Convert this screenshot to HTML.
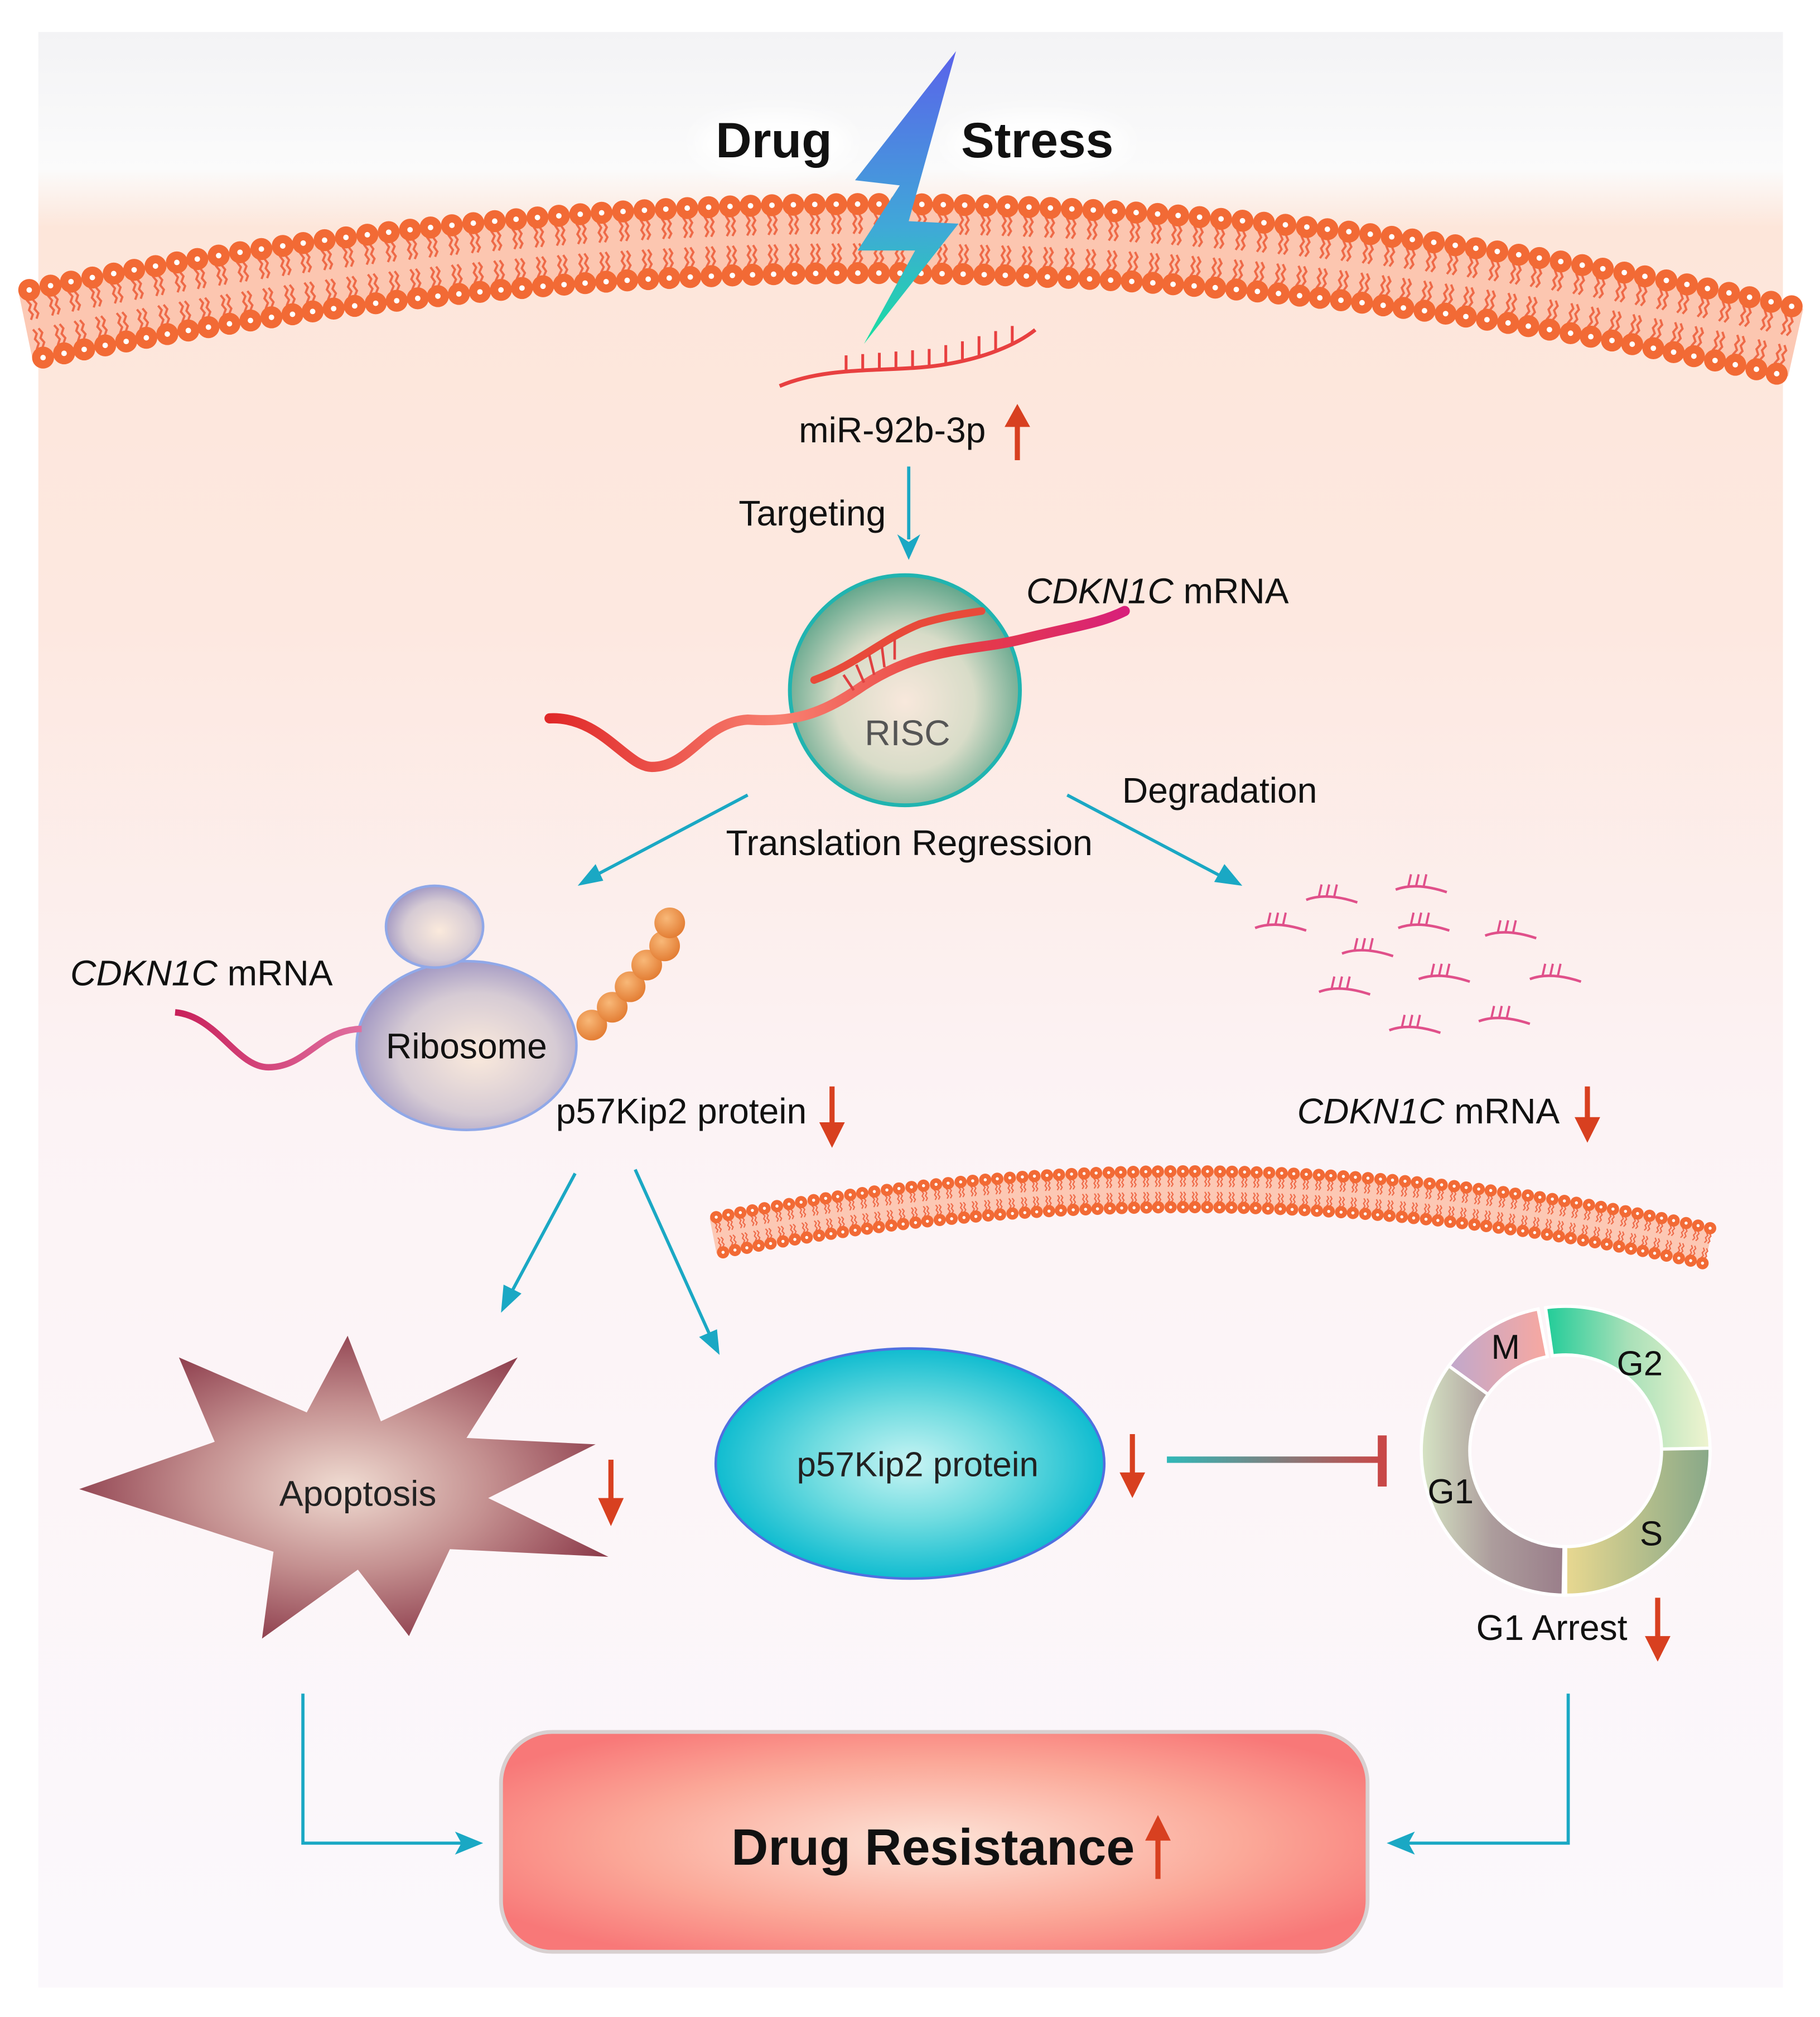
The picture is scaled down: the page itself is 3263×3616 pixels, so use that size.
<!DOCTYPE html>
<html><head><meta charset="utf-8"><style>
html,body{margin:0;padding:0;background:#fff;}
svg{display:block;}
text{font-family:"Liberation Sans",Arial,sans-serif;}
</style></head><body>
<svg id="s" xmlns="http://www.w3.org/2000/svg" width="3263" height="3616" viewBox="0 0 1424 1578">
<defs>
<linearGradient id="bg" x1="0" y1="0" x2="0" y2="1">
<stop offset="0" stop-color="#f3f3f5"/><stop offset="0.07" stop-color="#fbfbfb"/>
<stop offset="0.1" stop-color="#fde6da"/><stop offset="0.3" stop-color="#fde8e0"/>
<stop offset="0.55" stop-color="#fcf3f5"/><stop offset="1" stop-color="#fbf8fc"/>
</linearGradient>
<linearGradient id="bolt" x1="0" y1="0" x2="0" y2="1">
<stop offset="0" stop-color="#5a62ea"/><stop offset="0.6" stop-color="#40a8d8"/><stop offset="1" stop-color="#18e0a0"/>
</linearGradient>
<radialGradient id="risc" cx="0.5" cy="0.55" r="0.55">
<stop offset="0" stop-color="#f8e8dc"/><stop offset="0.55" stop-color="#d8dcc8"/><stop offset="1" stop-color="#5fa58a"/>
</radialGradient>
<radialGradient id="ribo" cx="0.55" cy="0.55" r="0.6">
<stop offset="0" stop-color="#fbeadc"/><stop offset="0.6" stop-color="#d6cbd4"/><stop offset="1" stop-color="#9a90c0"/>
</radialGradient>
<radialGradient id="bead" cx="0.4" cy="0.35" r="0.7">
<stop offset="0" stop-color="#f8b878"/><stop offset="1" stop-color="#e27a30"/>
</radialGradient>
<radialGradient id="apo" cx="0.5" cy="0.5" r="0.55">
<stop offset="0" stop-color="#f0dcd2"/><stop offset="0.5" stop-color="#c49090"/><stop offset="1" stop-color="#8a3848"/>
</radialGradient>
<radialGradient id="p57" cx="0.5" cy="0.5" r="0.5">
<stop offset="0" stop-color="#c8f4f4"/><stop offset="0.5" stop-color="#70dce0"/><stop offset="1" stop-color="#10bcd0"/>
</radialGradient>
<linearGradient id="inh" gradientUnits="userSpaceOnUse" x1="913" y1="0" x2="1080" y2="0"><stop offset="0" stop-color="#30b8b8"/><stop offset="1" stop-color="#c84848"/></linearGradient>
<radialGradient id="dr" cx="0.5" cy="0.5" r="0.6">
<stop offset="0" stop-color="#fde4d8"/><stop offset="0.6" stop-color="#fba898"/><stop offset="1" stop-color="#f87878"/>
</radialGradient>
<linearGradient id="rna1" x1="0" x2="1"><stop offset="0" stop-color="#e02828"/><stop offset="0.4" stop-color="#f88070"/><stop offset="0.7" stop-color="#e84040"/><stop offset="1" stop-color="#d8207a"/></linearGradient>
<linearGradient id="rna2" x1="0" x2="1"><stop offset="0" stop-color="#c8205a"/><stop offset="1" stop-color="#e070a0"/></linearGradient>
<linearGradient id="g1" x1="0" x2="1"><stop offset="0" stop-color="#d6e4c4"/><stop offset="0.5" stop-color="#ac9c9c"/><stop offset="1" stop-color="#9a7e8a"/></linearGradient>
<linearGradient id="gm" x1="0" x2="1"><stop offset="0" stop-color="#c0a8cc"/><stop offset="1" stop-color="#f8a8a0"/></linearGradient>
<linearGradient id="g2" x1="0" x2="1"><stop offset="0" stop-color="#20cc98"/><stop offset="0.5" stop-color="#a8e0b8"/><stop offset="1" stop-color="#f0f4d0"/></linearGradient>
<linearGradient id="gs" x1="0" x2="1"><stop offset="0" stop-color="#e8d890"/><stop offset="1" stop-color="#88a888"/></linearGradient>
<filter id="glow" x="-30%" y="-60%" width="160%" height="220%"><feGaussianBlur stdDeviation="8"/></filter>
</defs>
<rect x="30" y="25" width="1365" height="1530" fill="url(#bg)"/>
<g id="mem1"></g>
<g id="mem2"></g>
<!-- Drug Stress -->
<ellipse cx="605" cy="112" rx="60" ry="22" fill="#fff" filter="url(#glow)"/>
<ellipse cx="812" cy="112" rx="70" ry="22" fill="#fff" filter="url(#glow)"/>
<text x="560" y="123" font-size="39" font-weight="bold" fill="#111">Drug</text>
<text x="752" y="123" font-size="39" font-weight="bold" fill="#111">Stress</text>
<polygon points="748,40 669,141 704,145 671,196 716,196 676,269 750,175 711,173" fill="url(#bolt)"/>
<!-- miRNA -->
<path d="M610,302 C650,285 700,292 740,285 C770,280 795,270 810,258" fill="none" stroke="#e84040" stroke-width="3"/>
<g stroke="#e84040" stroke-width="2.2">
<line x1="662" y1="292" x2="662" y2="278"/><line x1="675" y1="291" x2="675" y2="277"/><line x1="688" y1="290" x2="688" y2="276"/><line x1="701" y1="289" x2="701" y2="275"/><line x1="714" y1="288" x2="714" y2="274"/><line x1="727" y1="287" x2="727" y2="273"/><line x1="740" y1="284" x2="740" y2="270"/><line x1="753" y1="281" x2="753" y2="267"/><line x1="766" y1="278" x2="766" y2="263"/><line x1="779" y1="274" x2="779" y2="259"/><line x1="792" y1="269" x2="792" y2="255"/>
</g>
<text x="625" y="346" font-size="28" fill="#111">miR-92b-3p</text>
<g fill="#d84020" stroke="#d84020"><line x1="796" y1="360" x2="796" y2="330" stroke-width="4"/><path d="M786,334 L796,316 L806,334 Z" stroke="none"/></g>
<text x="578" y="411" font-size="28" fill="#111">Targeting</text>
<line x1="711" y1="365" x2="711" y2="422" stroke="#1aa8c4" stroke-width="2.5"/>
<path d="M702,418 L711,438 L720,418 L711,424 Z" fill="#1aa8c4"/>
<!-- RISC -->
<ellipse cx="708" cy="540" rx="90" ry="90" fill="url(#risc)" stroke="#20b4b0" stroke-width="3"/>
<path d="M430,562 C470,560 490,600 510,600 C540,600 550,565 585,563 C620,565 640,560 670,540 C720,505 760,510 800,500 C840,490 860,488 880,478" fill="none" stroke="url(#rna1)" stroke-width="8" stroke-linecap="round"/>
<path d="M637,532 C670,520 690,500 720,488 C740,482 755,480 768,478" fill="none" stroke="#e84a3a" stroke-width="6" stroke-linecap="round"/>
<g stroke="#e04040" stroke-width="2"><line x1="660" y1="528" x2="668" y2="540"/><line x1="670" y1="520" x2="676" y2="534"/><line x1="680" y1="512" x2="684" y2="528"/><line x1="690" y1="506" x2="692" y2="522"/><line x1="700" y1="500" x2="700" y2="516"/></g>
<text x="710" y="583" font-size="28" fill="#555" text-anchor="middle">RISC</text>
<text x="803" y="472" font-size="28" fill="#111"><tspan font-style="italic">CDKN1C</tspan> mRNA</text>
<text x="878" y="628" font-size="28" fill="#111">Degradation</text>
<text x="568" y="669" font-size="28" fill="#111">Translation Regression</text>
<line x1="585" y1="622" x2="458" y2="689" stroke="#1aa8c4" stroke-width="2.5"/><path d="M452,693 L466,676 L472,689 Z" fill="#1aa8c4"/>
<line x1="835" y1="622" x2="962" y2="689" stroke="#1aa8c4" stroke-width="2.5"/><path d="M972,693 L950,690 L958,676 Z" fill="#1aa8c4"/>
<!-- Ribosome -->
<ellipse cx="365" cy="818" rx="86" ry="66" fill="url(#ribo)" stroke="#90a8e8" stroke-width="2"/>
<ellipse cx="340" cy="725" rx="38" ry="32" fill="url(#ribo)" stroke="#90a8e8" stroke-width="2"/>
<path d="M137,792 C170,795 185,835 210,835 C240,835 250,805 283,805" fill="none" stroke="url(#rna2)" stroke-width="5"/>
<text x="365" y="828" font-size="28" fill="#111" text-anchor="middle">Ribosome</text>
<g fill="url(#bead)"><circle cx="463" cy="802" r="12"/><circle cx="479" cy="788" r="12"/><circle cx="493" cy="772" r="12"/><circle cx="506" cy="755" r="12"/><circle cx="520" cy="740" r="12"/><circle cx="524" cy="722" r="12"/></g>
<text x="55" y="771" font-size="28" fill="#111"><tspan font-style="italic">CDKN1C</tspan> mRNA</text>
<text x="435" y="879" font-size="28" fill="#111">p57Kip2 protein</text>
<g fill="#d84020" stroke="#d84020"><line x1="651" y1="850" x2="651" y2="882" stroke-width="4"/><path d="M641,878 L651,898 L661,878 Z" stroke="none"/></g>
<text x="1015" y="879" font-size="28" fill="#111"><tspan font-style="italic">CDKN1C</tspan> mRNA</text>
<g fill="#d84020" stroke="#d84020"><line x1="1242" y1="850" x2="1242" y2="878" stroke-width="4"/><path d="M1232,874 L1242,894 L1252,874 Z" stroke="none"/></g>
<g id="frag"></g>
<!-- arrows -->
<line x1="450" y1="918" x2="398" y2="1015" stroke="#1aa8c4" stroke-width="2.5"/><path d="M392,1027 L394,1005 L408,1012 Z" fill="#1aa8c4"/>
<line x1="497" y1="915" x2="557" y2="1048" stroke="#1aa8c4" stroke-width="2.5"/><path d="M563,1060 L547,1046 L561,1040 Z" fill="#1aa8c4"/>
<!-- Apoptosis -->
<polygon points="62,1165 168,1128 140,1062 240,1105 272,1045 298,1112 405,1062 365,1125 466,1130 382,1172 476,1218 352,1212 320,1280 280,1228 205,1282 214,1214" fill="url(#apo)"/>
<text x="280" y="1178" font-size="28" fill="#222" text-anchor="middle">Apoptosis</text>
<g fill="#d84020" stroke="#d84020"><line x1="478" y1="1142" x2="478" y2="1176" stroke-width="4"/><path d="M468,1172 L478,1194 L488,1172 Z" stroke="none"/></g>
<!-- p57 -->
<ellipse cx="712" cy="1145" rx="152" ry="90" fill="url(#p57)" stroke="#5070e0" stroke-width="2"/>
<text x="718" y="1155" font-size="27" fill="#222" text-anchor="middle">p57Kip2 protein</text>
<g fill="#d84020" stroke="#d84020"><line x1="886" y1="1122" x2="886" y2="1156" stroke-width="4"/><path d="M876,1152 L886,1172 L896,1152 Z" stroke="none"/></g>
<rect x="913" y="1139.5" width="168" height="5" fill="url(#inh)"/>
<rect x="1078" y="1123" width="7" height="40" fill="#c84848"/>
<!-- cell cycle -->
<g id="cyc"></g>
<text x="1178" y="1063" font-size="27" fill="#111" text-anchor="middle">M</text>
<text x="1283" y="1076" font-size="27" fill="#111" text-anchor="middle">G2</text>
<text x="1135" y="1176" font-size="27" fill="#111" text-anchor="middle">G1</text>
<text x="1292" y="1209" font-size="27" fill="#111" text-anchor="middle">S</text>
<text x="1155" y="1283" font-size="28" fill="#111">G1 Arrest</text>
<g fill="#d84020" stroke="#d84020"><line x1="1297" y1="1250" x2="1297" y2="1284" stroke-width="4"/><path d="M1287,1280 L1297,1300 L1307,1280 Z" stroke="none"/></g>
<!-- connectors -->
<polyline points="237,1325 237,1442 362,1442" fill="none" stroke="#1aa8c4" stroke-width="2.5"/><path d="M378,1442 L356,1433 L361,1442 L356,1451 Z" fill="#1aa8c4"/>
<polyline points="1227,1325 1227,1442 1100,1442" fill="none" stroke="#1aa8c4" stroke-width="2.5"/><path d="M1085,1442 L1107,1433 L1102,1442 L1107,1451 Z" fill="#1aa8c4"/>
<rect x="392" y="1355" width="678" height="172" rx="40" fill="url(#dr)" stroke="#d8d0d0" stroke-width="3"/>
<text x="730" y="1459" font-size="40" font-weight="bold" fill="#111" text-anchor="middle">Drug Resistance</text>
<g fill="#d84020" stroke="#d84020"><line x1="906" y1="1470" x2="906" y2="1436" stroke-width="4"/><path d="M896,1440 L906,1420 L916,1440 Z" stroke="none"/></g>
</svg>
<script>
function bez(p0,c,p2,t){var u=1-t;return [u*u*p0[0]+2*u*t*c[0]+t*t*p2[0],u*u*p0[1]+2*u*t*c[1]+t*t*p2[1]];}
function mem(id,p0,c,p2,half,r,sp,tw){
 var N=2000,pts=[],L=[0];
 for(var i=0;i<=N;i++){pts.push(bez(p0,c,p2,i/N));if(i>0){var dx=pts[i][0]-pts[i-1][0],dy=pts[i][1]-pts[i-1][1];L.push(L[i-1]+Math.sqrt(dx*dx+dy*dy));}}
 var tot=L[N],h="",band1="",band2="";
 for(var i=0;i<=N;i+=20){var a=pts[Math.max(0,i-1)],b=pts[Math.min(N,i+1)];var dx=b[0]-a[0],dy=b[1]-a[1],l=Math.hypot(dx,dy);var nx=-dy/l,ny=dx/l;
  band1+=(pts[i][0]+nx*half)+","+(pts[i][1]+ny*half)+" ";band2=(pts[i][0]-nx*half)+","+(pts[i][1]-ny*half)+" "+band2;}
 h+='<polygon points="'+band1+band2+'" fill="#fbc0a8" opacity="0.85"/>';
 var j=0;
 for(var s=sp/2;s<tot;s+=sp){while(L[j]<s)j++;var p=pts[j],a=pts[Math.max(0,j-1)],b=pts[Math.min(N,j+1)];var dx=b[0]-a[0],dy=b[1]-a[1],l=Math.hypot(dx,dy);var tx=dx/l,ty=dy/l,nx=-ty,ny=tx;
  for(var side=-1;side<=1;side+=2){
   var hx=p[0]+nx*half*side,hy=p[1]+ny*half*side;
   for(var k=-1;k<=1;k+=2){var d="";for(var m=0;m<=6;m++){var f=half*(1-m/7);var w=(m%2?1:-1)*tw*0.5+k*tw;d+=(m?"L":"M")+(p[0]+nx*f*side+tx*w)+","+(p[1]+ny*f*side+ty*w);}
    h+='<path d="'+d+'" fill="none" stroke="#ee6a48" stroke-width="'+(r/5)+'"/>';}
   h+='<circle cx="'+hx+'" cy="'+hy+'" r="'+r+'" fill="#f26a35"/><circle cx="'+hx+'" cy="'+hy+'" r="'+(r/4)+'" fill="#fff"/>';
  }}
 document.getElementById(id).innerHTML=h;
}
mem("mem1",[20,255],[710,112],[1405,268],27,8.6,16.6,2.2);
mem("mem2",[558,967],[948,890],[1337,975],14,4.8,9.6,1.3);
var fr=[[1040,700],[1110,692],[1000,722],[1112,722],[1180,728],[1068,742],[1128,762],[1215,762],[1050,772],[1175,795],[1105,802]],fh="";
fr.forEach(function(q){var x=q[0],y=q[1];fh+='<path d="M'+(x-18)+','+(y+4)+' C'+(x-5)+','+(y-1)+' '+(x+10)+','+(y+2)+' '+(x+22)+','+(y+6)+'" fill="none" stroke="#e0508a" stroke-width="2"/>';
 for(var k=0;k<3;k++)fh+='<line x1="'+(x-8+k*6)+'" y1="'+(y+1)+'" x2="'+(x-6+k*6)+'" y2="'+(y-8)+'" stroke="#e0508a" stroke-width="1.7"/>';});
document.getElementById("frag").innerHTML=fh;
function arc(cx,cy,R,r,a0,a1,fill){function P(rad,a){var t=(a-90)*Math.PI/180;return [cx+rad*Math.cos(t),cy+rad*Math.sin(t)];}
 var A=P(R,a0),B=P(R,a1),C=P(r,a1),D=P(r,a0),lg=(a1-a0)>180?1:0;
 return '<path d="M'+A+' A'+R+','+R+' 0 '+lg+' 1 '+B+' L'+C+' A'+r+','+r+' 0 '+lg+' 0 '+D+' Z" fill="'+fill+'" stroke="#fff" stroke-width="2.5"/>';}
var cx=1225,cy=1135;
document.getElementById("cyc").innerHTML=arc(cx,cy,113,75,181,306,"url(#g1)")+arc(cx,cy,113,75,306,349,"url(#gm)")+arc(cx,cy,113,75,-8,89,"url(#g2)")+arc(cx,cy,113,75,89,180,"url(#gs)");
</script>
</body></html>
